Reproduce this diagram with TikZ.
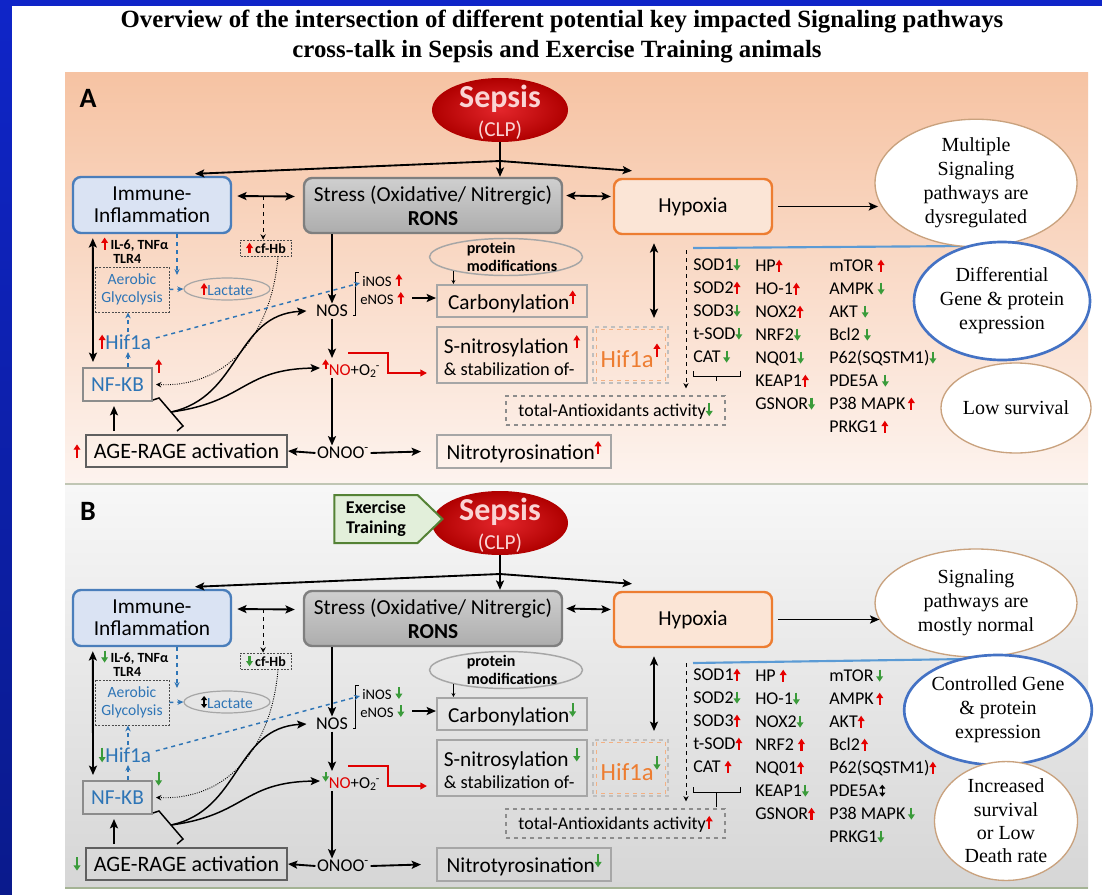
\documentclass[tikz,border=0pt]{standalone}
\usepackage{fontspec}
\setmainfont{Carlito}
\newfontfamily\serif{Liberation Serif}
\usetikzlibrary{arrows.meta,calc,shapes.geometric,shapes.symbols}
\definecolor{frameblue}{HTML}{0F25C8}
\definecolor{frameblue2}{HTML}{0A1A8C}
\definecolor{pAa}{HTML}{F6C3A3}
\definecolor{pAb}{HTML}{FDF3EE}
\definecolor{pBa}{HTML}{F7F7F7}
\definecolor{pBb}{HTML}{D6D6D6}
\definecolor{upc}{HTML}{E60000}
\definecolor{dnc}{HTML}{3A9B3A}
\definecolor{txtblue}{HTML}{2E75B6}
\definecolor{orng}{HTML}{ED7D31}
\definecolor{boxgray}{HTML}{A6A6A6}
\definecolor{tanc}{HTML}{C9A27E}
\definecolor{immfill}{HTML}{DAE3F3}
\definecolor{immdraw}{HTML}{4A7EBB}
\definecolor{hypfill}{HTML}{FBE5D6}
\definecolor{sepred}{HTML}{B00000}
\definecolor{sepin}{HTML}{E3262B}
\definecolor{sepink}{HTML}{FAD4D4}
\definecolor{linkblue}{HTML}{5B9BD5}
\definecolor{diffblue}{HTML}{4472C4}
\definecolor{exfill}{HTML}{E2EFDA}
\definecolor{exdraw}{HTML}{548235}
\definecolor{strtop}{HTML}{CFCFCF}
\definecolor{strbot}{HTML}{ADADAD}
\definecolor{strdraw}{HTML}{7F7F7F}
\definecolor{nfgray}{HTML}{8C8C8C}
\definecolor{agegray}{HTML}{5F5F5F}
\definecolor{hifout}{HTML}{BFBFBF}
\definecolor{hifin}{HTML}{F4B183}
\definecolor{totgray}{HTML}{8C8C8C}
\definecolor{lineA}{HTML}{C0C6B4}
\definecolor{lineB}{HTML}{A4B394}
\definecolor{noRed}{HTML}{E00000}

\newcommand\px{*0.75pt}
\newcommand\fs[2]{\fontsize{#1}{#2}\selectfont}
\newcommand\up[1][9]{\tikz[baseline=0pt,reset cm]\draw[upc,line width=1.6pt,-{Triangle[length=4pt,width=5pt]}](0pt,0pt)--(0pt,#1pt);}
\newcommand\dn[1][9]{\tikz[baseline=0pt,reset cm]\draw[dnc,line width=1.6pt,-{Triangle[length=4pt,width=5pt]}](0pt,#1pt)--(0pt,0pt);}
\newcommand\ud[1][9]{\tikz[baseline=0pt,reset cm]\draw[black,line width=1.1pt,{Triangle[length=3pt,width=4.5pt]}-{Triangle[length=3pt,width=4.5pt]}](0pt,0pt)--(0pt,#1pt);}

\tikzset{
 conn/.style={line width=1.4pt},
 rbox/.style={rounded corners=6pt, line width=1.8pt, inner sep=0, align=center, font=\fs{16}{16.3}},
 gbox/.style={draw=boxgray, line width=1.5pt, inner sep=0, font=\fs{16}{18}},
 dotbox/.style={draw=black!70, dash pattern=on 1.5pt off 1pt, line width=0.6pt, inner sep=1pt},
 bdash/.style={txtblue, dashed, line width=1.1pt, -{Stealth[length=4.5pt,width=4pt]}},
 ell/.style={ellipse, fill=white, line width=1pt, inner sep=0, align=center, font=\serif\fs{15}{18}},
 gene/.style={anchor=west, inner sep=0, font=\fs{13.5}{14}, text height=10pt, text depth=3pt},
 septext/.style={text=sepink, inner sep=0},
 redline/.style={noRed, line width=1.9pt, -{Triangle[length=5pt,width=5pt]}},
 small/.style={line width=0.6pt, -{Stealth[length=4pt,width=4pt]}},
}

\newcommand\Panel{%
\node[font=\bfseries\fs{21}{21}, inner sep=0] (\pn lab) at (88,98+\oy) {\plab};
\node[ellipse, minimum width=136\px, minimum height=64\px, inner sep=0, inner color=sepin, outer color=sepred] (\pn sep) at (500,110+\oy) {};
\node[septext, font=\bfseries\fs{24}{24}] (\pn sept) at (500,99+\oy) {Sepsis};
\node[septext, font=\fs{16}{16}] (\pn clp) at (500,130+\oy) {(CLP)};
\node[rbox, fill=immfill, draw=immdraw, minimum width=158\px, minimum height=56\px] (\pn imm) at (152,205+\oy) {Immune-\\Inflammation};
\node[rbox, top color=strtop, bottom color=strbot, draw=strdraw, minimum width=258\px, minimum height=55\px, font=\fs{16}{18}] (\pn str) at (433,205.5+\oy) {Stress (Oxidative/ Nitrergic)\\\textbf{RONS}};
\node[rbox, fill=hypfill, draw=orng, minimum width=158\px, minimum height=55\px] (\pn hyp) at (693,206.5+\oy) {Hypoxia};
\coordinate (\pn br) at (500,161+\oy);
\draw[conn] (\pn sep.south) -- (\pn br);
\draw[conn,->] (\pn br) -- ($(\pn imm.north)+(43,-2)$);
\draw[conn,->] (\pn br) -- (\pn br |- \pn str.north);
\draw[conn,->] (\pn br) -- ($(\pn hyp.north)+(-61,-7)$);
\coordinate (\pn isa) at ($(\pn imm.east)+(5,-9)$);
\coordinate (\pn isb) at ($(\pn str.west)+(-8,-9)$);
\draw[conn,<->] (\pn isa) -- (\pn isb);
\coordinate (\pn ism) at ($(\pn isa)!0.45!(\pn isb)$);
\node[dotbox, font=\bfseries\fs{10.5}{11}, minimum width=51\px, minimum height=16\px] (\pn cf) at (266,248+\oy) {\sCf[8]\,cf-Hb};
\draw[small, dashed] (\pn ism) -- (\pn ism |- \pn cf.north);
\draw[conn,<->] ($(\pn str.east)+(3,-10)$) -- ($(\pn hyp.west)+(-2,-10)$);
% left column
\node[gbox, draw=nfgray, minimum width=69\px, minimum height=33\px, text=txtblue, font=\fs{16}{16}] (\pn nf) at (117.5,384.5+\oy) {NF-KB};
\node[inner sep=0, anchor=south west] (\pn nfa) at ($(\pn nf.north east)+(2,7)$) {\sNF[10]};
\draw[conn,<->] ($(\pn imm.south west)+(21,4)$) -- ($(\pn nf.north west)+(11,-5)$);
\node[inner sep=0, anchor=west, font=\bfseries\fs{10.5}{11}] (\pn il) at (101,244+\oy) {\sIL[9]\kern2pt IL-6, TNFα};
\node[inner sep=0, anchor=west, font=\bfseries\fs{10.5}{11}] (\pn tlr) at (113,259+\oy) {TLR4};
\coordinate (\pn lacin) at (177,275+\oy);
\draw[bdash] (\pn lacin |- \pn imm.south) -- (\pn lacin);
\node[dotbox, minimum width=74\px, minimum height=45\px, text=txtblue, font=\fs{11.7}{13.5}, align=center] (\pn aer) at (132,289.5+\oy) {Aerobic\\Glycolysis};
\node[ellipse, draw=boxgray, line width=0.9pt, minimum width=86\px, minimum height=22\px, inner sep=0, text=txtblue, font=\fs{11.7}{12}] (\pn lac) at (227,289+\oy) {\sLac[9]Lactate};
\draw[bdash] (\pn aer.east) -- (\pn lac.west);
\node[inner sep=1pt, text=txtblue, font=\fs{16}{16}] (\pn hif) at (125,342+\oy) {\sHif[11]Hif1a};
\draw[bdash] ($(\pn hif.north)+(3,0)$) -- ($(\pn aer.south)+(-4,0)$);
\draw[bdash] ($(\pn nf.north)+(10.5,0)$) -- ($(\pn hif.south)+(3,0)$);
\draw[densely dotted, line width=0.7pt, -{Stealth[length=4pt,width=4pt]}] ($(\pn cf.south)+(12,0)$) .. controls ($(\pn cf.south)+(6,74)$) and ($(\pn nf.east)+(78,3)$) .. ($(\pn nf.east)+(3,0)$);
\draw[line width=1.1pt] ($(\pn nf.south east)+(0,-2)$) -- ++(6,-2) -- ++(24,28) -- ++(-6,5);
\coordinate (\pn inh) at ($(\pn nf.south east)+(18,10)$);
% NOS column
\node[inner sep=1pt, font=\fs{13.5}{14}] (\pn nos) at (332,311+\oy) {NOS};
\draw[conn,->] (\pn nos.north |- \pn str.south) -- (\pn nos.north);
\draw[line width=0.6pt] ($(\pn nos.east)+(9,-39)$) -- ++(-3,0) -- ++(0,43) -- ++(-3,0);
\node[inner sep=0, anchor=west, font=\fs{11}{12}] (\pn inos) at (362,280+\oy) {iNOS\kern3pt\sINOS[9]};
\node[inner sep=0, anchor=west, font=\fs{11}{12}] (\pn enos) at (360,298+\oy) {eNOS\kern3pt\sENOS[9]};
\draw[bdash] ($(\pn hif.east)+(3,-4)$) -- ($(\pn inos.west)+(-2,3)$);
\node[inner sep=0, anchor=west, font=\fs{12.5}{13}] (\pn no) at (322,368+\oy) {\raisebox{5pt}{\sNO[7]}\textcolor{noRed}{NO}+O\textsubscript{2}\kern-0.5pt\textsuperscript{-}};
\draw[conn,->] (\pn nos.south) -- (\pn nos.south |- \pn no.north);
\draw[line width=1.1pt, ->] (\pn inh) .. controls ($(\pn inh)+(70,-15)$) and ($(\pn nos.west)+(-80,4)$) .. ($(\pn nos.west)+(-8,0)$);
\draw[line width=1.1pt, ->] (\pn inh) .. controls ($(\pn inh)+(75,-10)$) and ($(\pn no.west)+(-80,1)$) .. ($(\pn no.west)+(-2,0)$);
\node[inner sep=1pt, font=\fs{13.5}{14}] (\pn onoo) at (343,453+\oy) {ONOO\textsuperscript{-}};
\draw[conn,->] (\pn no.south -| \pn nos.south) -- (\pn onoo.north -| \pn nos.south);
\node[gbox, draw=agegray, minimum width=201\px, minimum height=32\px, font=\fs{16.5}{17}] (\pn age) at (186.5,451+\oy) {AGE-RAGE activation};
\node[inner sep=0] (\pn agea) at (77,451+\oy) {\sAGE[10]};
\coordinate (\pn agetop) at ($(\pn age.north west)+(29,-3)$);
\coordinate (\pn nfb) at ($(\pn nf.south)+(-2.5,4)$);
\draw[conn,->] (\pn agetop) -- (\pn agetop |- \pn nfb);
\draw[conn,->] (\pn onoo.west) -- (\pn age.east);
% middle column
\node[ellipse, draw=boxgray, line width=1.1pt, minimum width=153\px, minimum height=37\px, inner sep=0] (\pn pm) at (506,257+\oy) {};
\node[inner sep=0, align=left, font=\bfseries\fs{12}{13.5}] (\pn pmt) at (512,257+\oy) {protein\\modifications};
\node[gbox, minimum width=150\px, minimum height=32\px] (\pn carb) at (512,301+\oy) {Carbonylation\raisebox{4pt}{\sCarb[10]}};
\draw[line width=0.6pt, -{Stealth[length=3pt,width=3pt]}] (\pn pm.195) -- (\pn pm.195 |- \pn carb.north);
\draw[conn,->] ($(\pn enos.east)+(8,0)$) -- (\pn enos.east -| \pn carb.west);
\node[gbox, minimum width=150\px, minimum height=56\px, align=left, font=\fs{16}{16.5}] (\pn snit) at (512,355+\oy) {S-nitrosylation \raisebox{4pt}{\sSnit[10]}\\{\fs{13.8}{16.5}\& stabilization of-}};
\coordinate (\pn rs) at (348,353+\oy);
\draw[redline] (\pn rs) -- ++(40,0) |- ($(\pn snit.west)+(-9,18)$);
\node[draw=hifout, dashed, line width=0.8pt, minimum width=75\px, minimum height=56\px, inner sep=0, text=orng, font=\fs{18.5}{19}] (\pn hifo) at (630.5,355+\oy) {Hif1a\raisebox{8pt}{\sHifo[10]}};
\draw[dashed, draw=hifin, line width=0.7pt] ($(\pn hifo.north west)+(4,3)$) rectangle ($(\pn hifo.south east)+(-3,-3)$);
\node[gbox, minimum width=174\px, minimum height=33\px] (\pn nit) at (524,451.5+\oy) {Nitrotyrosination\raisebox{4pt}{\sNit[10]}};
\draw[conn,->] (\pn onoo.east) -- ($(\pn nit.west)+(-15,0)$);
\coordinate (\pn hv) at (654,318+\oy);
\coordinate (\pn hvt) at ($(\pn hyp.south)+(-39,8)$);
\draw[conn,<->] (\pn hvt) -- (\pn hv);
% gene lists
\foreach \t [count=\i] in \colI {\node[gene] (\pn ca\i) at (693,{\gy+23*(\i-1)+\oy}) {\t};}
\foreach \t [count=\i] in \colII {\node[gene] (\pn cb\i) at (755,{\gy+1+23*(\i-1)+\oy}) {\t};}
\foreach \t [count=\i] in \colIII {\node[gene] (\pn cc\i) at (829,{\gy+1+23*(\i-1)+\oy}) {\t};}
\node[draw=totgray, dashed, line width=0.9pt, minimum width=219\px, minimum height=29\px, inner sep=0, font=\fs{13.5}{14}] (\pn tot) at (615.5,410.5+\oy) {total-Antioxidants activity\sTot[10]};
\coordinate (\pn dv) at (686,250+\oy);
\coordinate (\pn dve) at ($(\pn tot.north)+(0,-7)$);
\draw[small, dashed] (\pn dv) -- (\pn dv |- \pn dve);
\draw[line width=0.6pt] (693,\bA-5+\oy) -- (693,\bA+\oy) -- (740,\bA+\oy) -- (740,\bA-5+\oy);
\draw[line width=0.6pt] (716.5,\bA+\oy) -- (716.5,\bT+\oy);
}

\begin{document}
\begin{tikzpicture}[x=0.75pt,y=-0.75pt,>={Stealth[length=7pt,width=6pt,inset=1.5pt]}]
\useasboundingbox (0,0) rectangle (1102,895);
\shade[top color=frameblue, bottom color=frameblue2] (0,0) rectangle (1102,895);
\fill[white] (12,6) rectangle (1102,895);
\shade[top color=pAa, bottom color=pAb] (65,73) rectangle (1088,482);
\shade[top color=pBa, bottom color=pBb] (65,485) rectangle (1088,888);
\draw[lineA, line width=1.5pt] (65,483.5) -- (1088,483.5);
\draw[lineB, line width=1.5pt] (65,888) -- (1088,888);
\node[font=\serif\bfseries\fs{18.6}{20}] (t1) at (562,22) {Overview of the intersection of different potential key impacted Signaling pathways};
\node[font=\serif\bfseries\fs{18.6}{20}] (t2) at (557,52) {cross-talk in Sepsis and Exercise Training animals};
% ---------- Panel A
\def\pn{a}\def\plab{A}\def\oy{0}\def\gy{266}\def\bA{376}\def\bT{381}
\let\sIL\up \let\sCf\up \let\sLac\up \let\sHif\up \let\sNF\up \let\sNO\up \let\sAGE\up
\let\sINOS\up \let\sENOS\up \let\sCarb\up \let\sSnit\up \let\sHifo\up \let\sNit\up \let\sTot\dn
\def\colI{SOD1\dn, SOD2\up, SOD3\dn, t-SOD\dn, CAT\kern2pt\dn}
\def\colII{HP\up, HO-1\up, NOX2\up, NRF2\dn, NQ01\dn, KEAP1\up, GSNOR\dn}
\def\colIII{mTOR \up, AMPK \dn, AKT \dn, Bcl2 \dn, P62(SQSTM1)\dn, PDE5A \dn, P38 MAPK\kern2pt\up, PRKG1 \up}
\Panel
\coordinate (aline) at (693,248);
\coordinate (alineend) at (970,246);
\draw[linkblue, line width=1.6pt] (aline) -- (alineend);
\node[ell, draw=tanc, minimum width=202\px, minimum height=102\px] (aout) at (976,183) {Multiple\\Signaling\\pathways are\\dysregulated};
\draw[conn,->] ($(ahyp.east)+(5,0)$) -- (ahyp.east -| aout.190);
\node[ell, draw=diffblue, line width=2pt, minimum width=171\px, minimum height=118\px] (adiff) at (1002,301) {Differential\\Gene \& protein\\expression};
\node[ell, draw=tanc, minimum width=128\px, minimum height=90\px] (asurv) at (1016,408) {Low survival};
% ---------- Panel B
\def\pn{b}\def\plab{B}\def\oy{413}\def\gy{263}\def\bA{379}\def\bT{394}
\let\sIL\dn \let\sCf\dn \let\sLac\ud \let\sHif\dn \let\sNF\dn \let\sNO\dn \let\sAGE\dn
\let\sINOS\dn \let\sENOS\dn \let\sCarb\dn \let\sSnit\dn \let\sHifo\dn \let\sNit\dn \let\sTot\up
\def\colI{SOD1\up, SOD2\dn, SOD3\up, t-SOD\up, CAT \up}
\def\colII{HP \up, HO-1\dn, NOX2\dn, NRF2 \up, NQ01\up, KEAP1\dn, GSNOR\up}
\def\colIII{mTOR\kern2pt\dn, AMPK\kern2pt\up, AKT\up, Bcl2\kern1pt\up, P62(SQSTM1)\up, PDE5A\kern1pt\ud, P38 MAPK\kern2pt\dn, PRKG1\dn}
\Panel
\node[signal, signal to=east, signal pointer angle=88, draw=exdraw, fill=exfill, line width=1.5pt, minimum width=108\px, minimum height=48\px, inner sep=2pt, font=\bfseries\fs{13.5}{15}, align=center] (bex) at (376,519) {Exercise\\Training};
\coordinate (bline) at (693,663);
\coordinate (blineend) at (968,659);
\draw[linkblue, line width=1.6pt] (bline) -- (blineend);
\node[ell, draw=tanc, minimum width=202\px, minimum height=108\px] (bout) at (976,603) {Signaling\\pathways are\\mostly normal};
\draw[conn,->] ($(bhyp.east)+(5,0)$) -- (bhyp.east -| bout.190);
\node[ell, draw=diffblue, line width=2pt, minimum width=167\px, minimum height=110\px] (bdiff) at (998,710) {Controlled Gene\\\& protein\\expression};
\node[ell, draw=tanc, minimum width=143\px, minimum height=108\px, font=\serif\fs{15}{17.5}] (bsurv) at (1006,821) {Increased\\survival\\or Low\\Death rate};
\end{tikzpicture}
\end{document}
